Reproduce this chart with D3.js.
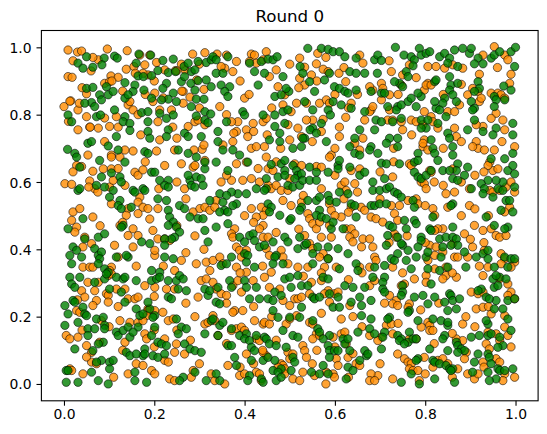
<!DOCTYPE html>
<html><head><meta charset="utf-8">
<script src="https://cdn.jsdelivr.net/npm/d3@7/dist/d3.min.js"></script>
<style>body{margin:0;background:#fff}svg{display:block}</style>
</head><body><svg id="c" width="547" height="434"></svg>
<script>
const title = "Round 0";
const xLimits = [-0.05, 1.05];
const yLimits = [-0.05, 1.05];
const xTicks = [0.0, 0.2, 0.4, 0.6, 0.8, 1.0];
const yTicks = [0.0, 0.2, 0.4, 0.6, 0.8, 1.0];
const seriesNames = ["orange", "green"];

const orangePoints = [
[.009,.992],[.030,.986],[.096,.995],[.076,.963],[.064,.970],[.009,.913],[.018,.911],[.104,.915],[.120,.911],[.138,.935],[.155,.943],[.158,.923],[.179,.948],[.205,.955],[.223,.933],[.247,.931],[.285,.980],[.312,.984],[.090,.893],[.101,.898],[.264,.869],[.310,.875],[.050,.862],[.015,.841],[.000,.824],[.031,.814],[.050,.794],[.031,.755],[.057,.763],[.076,.760],[.101,.765],[.120,.763],[.142,.829],[.146,.839],[.153,.814],[.201,.864],[.197,.839],[.212,.814],[.208,.779],[.212,.725],[.238,.814],[.275,.765],[.290,.779],[.297,.784],[.312,.770],[.264,.834],[.245,.695],[.205,.692],[.153,.692],[.135,.695],[.105,.680],[.053,.680],[.306,.697],[.288,.695],[.186,.918],[.116,.794],[.168,.977],[.175,.923],[.039,.989],[.190,.977],[.013,.840],[.034,.834],[.058,.763],[.164,.800],[.261,.870],[.279,.852],[.294,.903],[.106,.900],[.241,.763],[.268,.933],[.250,.930],
[.339,.980],[.360,.977],[.382,.958],[.374,.928],[.356,.938],[.348,.943],[.415,.980],[.422,.977],[.411,.958],[.426,.953],[.441,.963],[.448,.987],[.470,.933],[.455,.913],[.474,.883],[.489,.859],[.522,.968],[.533,.941],[.548,.918],[.522,.908],[.533,.888],[.559,.951],[.574,.935],[.562,.982],[.585,.928],[.609,.923],[.624,.898],[.655,.977],[.662,.953],[.345,.824],[.400,.849],[.385,.779],[.371,.779],[.382,.750],[.376,.745],[.404,.755],[.419,.774],[.407,.735],[.441,.779],[.448,.789],[.485,.829],[.503,.809],[.496,.770],[.518,.760],[.515,.834],[.537,.834],[.566,.834],[.581,.844],[.588,.834],[.551,.784],[.574,.786],[.537,.784],[.526,.735],[.610,.763],[.624,.792],[.636,.834],[.666,.784],[.610,.735],[.662,.730],[.352,.710],[.374,.720],[.415,.700],[.426,.705],[.444,.705],[.500,.725],[.592,.680],[.644,.715],[.655,.695],
[.703,.893],[.706,.878],[.684,.873],[.677,.883],[.721,.859],[.703,.844],[.680,.814],[.677,.809],[.721,.814],[.717,.784],[.728,.784],[.747,.779],[.750,.755],[.769,.784],[.780,.779],[.795,.770],[.798,.809],[.813,.794],[.817,.779],[.850,.809],[.865,.809],[.865,.760],[.869,.735],[.828,.760],[.806,.893],[.798,.873],[.802,.888],[.813,.888],[.806,.943],[.824,.943],[.843,.938],[.883,.938],[.861,.948],[.750,.918],[.747,.888],[.725,.928],[.765,.948],[.928,.977],[.953,1.002],[.976,.977],[.983,.963],[.917,.869],[.905,.878],[.894,.859],[.920,.839],[.924,.849],[.946,.864],[.961,.864],[.968,.859],[.976,.849],[.987,.893],[.957,.804],[.972,.784],[.976,.755],[.946,.789],[.928,.765],[.913,.770],[.876,.829],[.798,.725],[.795,.705],[.806,.695],[.913,.720],[.917,.700],[.931,.695],[.905,.705],[.953,.695],[.998,.705],[.684,.824],[.795,.715],
[.028,.649],[.039,.646],[.064,.632],[.087,.639],[.105,.674],[.105,.639],[.124,.674],[.157,.629],[.164,.620],[.175,.636],[.223,.649],[.260,.654],[.286,.644],[.290,.649],[.312,.664],[.002,.595],[.017,.593],[.057,.603],[.068,.580],[.101,.585],[.109,.605],[.135,.590],[.168,.555],[.164,.540],[.105,.535],[.142,.521],[.138,.501],[.164,.506],[.175,.525],[.186,.521],[.208,.521],[.267,.580],[.286,.511],[.301,.521],[.312,.525],[.323,.516],[.020,.511],[.035,.521],[.017,.486],[.064,.496],[.028,.466],[.024,.451],[.124,.471],[.153,.461],[.142,.441],[.164,.441],[.197,.456],[.208,.431],[.223,.431],[.234,.426],[.201,.382],[.201,.397],[.046,.436],[.042,.407],[.061,.417],[.112,.412],[.153,.407],[.120,.377],[.042,.347],[.057,.347],[.064,.347],[.105,.347],[.260,.367],[.293,.357],[.315,.362],[.323,.337],[.330,.367],[.245,.337],[.101,.337],
[.382,.654],[.404,.659],[.448,.674],[.511,.654],[.526,.649],[.559,.646],[.570,.644],[.588,.674],[.636,.634],[.655,.639],[.452,.639],[.463,.634],[.371,.605],[.348,.600],[.396,.605],[.415,.610],[.433,.600],[.452,.590],[.459,.580],[.470,.590],[.481,.575],[.496,.575],[.485,.545],[.503,.530],[.526,.540],[.437,.525],[.448,.516],[.441,.501],[.426,.496],[.415,.521],[.441,.471],[.433,.461],[.337,.545],[.334,.525],[.588,.535],[.592,.516],[.614,.590],[.622,.600],[.625,.575],[.644,.595],[.658,.525],[.666,.516],[.636,.525],[.614,.496],[.540,.506],[.544,.491],[.551,.476],[.559,.461],[.566,.481],[.588,.471],[.592,.436],[.570,.436],[.533,.441],[.544,.417],[.551,.402],[.574,.387],[.566,.377],[.585,.372],[.625,.461],[.636,.461],[.644,.446],[.633,.436],[.640,.422],[.659,.407],[.662,.431],[.378,.461],[.371,.446],[.374,.436],[.382,.407],[.389,.397],[.404,.397],[.393,.377],[.441,.436],[.452,.436],[.448,.402],[.455,.382],[.481,.397],[.518,.347],[.540,.347],[.577,.347],[.603,.347],[.655,.347],[.345,.377],[.352,.357],[.382,.347],[.404,.332],[.485,.377],[.496,.357],[.459,.332],
[.765,.654],[.769,.649],[.810,.634],[.813,.629],[.861,.639],[.950,.634],[.943,.659],[.939,.649],[.961,.639],[.791,.600],[.798,.595],[.802,.580],[.846,.565],[.865,.570],[.850,.525],[.898,.530],[.898,.580],[.943,.575],[.950,.570],[.965,.575],[.979,.585],[.990,.600],[.998,.570],[.987,.525],[.976,.511],[.762,.545],[.780,.550],[.784,.535],[.728,.615],[.725,.530],[.732,.506],[.743,.530],[.680,.496],[.691,.491],[.706,.481],[.739,.486],[.817,.521],[.821,.501],[.839,.461],[.828,.461],[.821,.456],[.861,.417],[.887,.446],[.909,.471],[.928,.456],[.957,.441],[.965,.436],[.946,.461],[.979,.441],[.677,.431],[.684,.407],[.732,.446],[.736,.436],[.810,.412],[.824,.407],[.839,.392],[.821,.382],[.865,.377],[.894,.377],[.905,.407],[.931,.397],[.968,.387],[.976,.372],[.688,.377],[.677,.347],[.691,.367],[.806,.367],[.821,.342],[.846,.347],[.872,.377],[.998,.362],[.990,.347],[.968,.357],[.939,.347],[.728,.347],
[.053,.302],[.076,.302],[.098,.322],[.105,.327],[.116,.282],[.135,.282],[.179,.292],[.201,.287],[.227,.282],[.245,.282],[.039,.277],[.046,.258],[.068,.277],[.072,.248],[.064,.233],[.094,.268],[.098,.263],[.028,.218],[.035,.213],[.098,.243],[.142,.253],[.157,.253],[.164,.258],[.186,.223],[.186,.218],[.183,.203],[.201,.218],[.219,.213],[.124,.188],[.146,.183],[.164,.183],[.175,.188],[.231,.188],[.242,.193],[.083,.188],[.005,.144],[.013,.134],[.031,.139],[.050,.114],[.061,.094],[.079,.124],[.135,.124],[.179,.149],[.183,.134],[.223,.134],[.249,.119],[.245,.094],[.267,.089],[.312,.178],[.319,.183],[.297,.258],[.304,.307],[.315,.312],[.330,.302],[.061,.065],[.072,.060],[.160,.060],[.175,.055],[.142,.030],[.194,.040],[.201,.030],[.223,.070],[.231,.065],[.042,.030],[.013,.045],[.017,.040],[.286,.040],[.282,.020],[.234,.015],[.245,.010],[.326,.030],
[.337,.282],[.348,.268],[.360,.263],[.374,.292],[.385,.307],[.393,.273],[.419,.307],[.444,.317],[.455,.287],[.478,.282],[.485,.248],[.500,.233],[.511,.253],[.518,.253],[.526,.258],[.544,.268],[.548,.302],[.570,.307],[.585,.277],[.577,.268],[.599,.268],[.607,.273],[.588,.243],[.614,.193],[.633,.233],[.378,.218],[.396,.218],[.374,.213],[.330,.203],[.334,.188],[.341,.144],[.371,.159],[.382,.164],[.393,.169],[.400,.159],[.426,.134],[.433,.129],[.441,.178],[.422,.188],[.444,.183],[.455,.178],[.492,.178],[.500,.193],[.515,.203],[.544,.183],[.551,.178],[.559,.149],[.551,.134],[.566,.144],[.596,.139],[.614,.149],[.622,.154],[.529,.114],[.533,.099],[.537,.079],[.496,.094],[.500,.075],[.507,.089],[.481,.060],[.485,.055],[.489,.045],[.489,.030],[.474,.050],[.448,.084],[.441,.094],[.404,.089],[.363,.055],[.389,.025],[.400,.030],[.426,.035],[.433,.030],[.437,.010],[.507,.015],[.522,.010],[.529,.035],[.555,.025],[.581,.035],[.596,.030],[.599,.020],[.603,.075],[.607,.055],[.629,.079],[.647,.060],[.655,.055],[.625,.119],[.356,.000],[.334,.010],
[.677,.292],[.688,.307],[.721,.263],[.736,.248],[.728,.238],[.739,.233],[.754,.297],[.747,.292],[.776,.312],[.802,.322],[.802,.302],[.846,.322],[.839,.312],[.869,.317],[.928,.322],[.965,.312],[.983,.297],[.990,.273],[.983,.263],[.998,.253],[.902,.273],[.917,.268],[.928,.273],[.913,.223],[.928,.228],[.946,.208],[.976,.203],[.976,.169],[.983,.144],[.965,.129],[.957,.149],[.935,.119],[.942,.104],[.939,.154],[.883,.178],[.869,.134],[.883,.129],[.891,.094],[.887,.075],[.765,.238],[.762,.228],[.791,.169],[.806,.183],[.810,.174],[.810,.159],[.817,.159],[.765,.134],[.780,.134],[.728,.149],[.714,.174],[.725,.178],[.703,.139],[.695,.129],[.677,.144],[.739,.089],[.754,.075],[.762,.065],[.769,.060],[.765,.045],[.773,.040],[.784,.040],[.798,.079],[.817,.050],[.828,.070],[.839,.075],[.850,.060],[.872,.045],[.894,.030],[.909,.015],[.917,.030],[.928,.065],[.957,.075],[.965,.065],[.976,.030],[.972,.010],[.998,.020],[.728,.015],[.787,.010],[.695,.025],[.680,.030],[.677,.010],[.688,.010],
[.055,.585],[.075,.570],[.020,.630],[.120,.640],[.180,.660],[.250,.600],[.270,.550],[.210,.580],[.190,.490],[.130,.480],[.080,.470],[.250,.470],[.290,.440],[.310,.400],[.270,.390],[.160,.350],[.220,.350],[.030,.250],[.120,.230],[.200,.260],[.270,.240],[.290,.200],[.250,.160],[.200,.160],[.100,.170],[.040,.160],[.130,.100],[.200,.110],[.280,.130],[.300,.060],[.110,.020],[.050,.080],
[.360,.620],[.430,.640],[.470,.660],[.500,.610],[.530,.560],[.570,.580],[.600,.620],[.620,.550],[.650,.570],[.400,.500],[.420,.480],[.470,.450],[.520,.460],[.600,.500],[.630,.510],[.390,.330],[.440,.350],[.530,.320],[.570,.330],[.630,.310],[.660,.330],[.360,.240],[.420,.230],[.460,.200],[.570,.210],[.640,.200],[.660,.170],[.360,.120],[.440,.100],[.470,.130],[.560,.100],[.600,.110],[.640,.090],[.390,.050],[.420,.060],[.550,.060],[.580,.000],[.630,.020],
[.700,.630],[.730,.660],[.820,.600],[.840,.590],[.880,.600],[.910,.620],[.930,.630],[.700,.550],[.800,.530],[.880,.500],[.910,.520],[.940,.500],[.720,.420],[.760,.440],[.800,.420],[.900,.430],[.930,.420],[.750,.330],[.860,.330],[.920,.350],[.710,.240],[.790,.220],[.830,.240],[.890,.200],[.940,.230],[.740,.180],[.820,.120],[.860,.150],[.910,.170],[.990,.110],[.700,.060],[.800,.030],[.860,.020],[.930,.050],
[.360,.800],[.410,.860],[.460,.820],[.520,.880],[.560,.900],[.600,.860],[.630,.820],[.650,.860],[.390,.900],[.500,.950],[.580,.970],[.620,.940],[.450,.740],[.480,.700],[.550,.720],[.600,.700],[.570,.750],[.420,.750],[.720,.960],[.740,.860],[.780,.910],[.840,.860],[.880,.890],[.920,.920],[.960,.940],[.990,.920],[.880,.720],[.840,.700],[.970,.720],[.730,.700],[.770,.740],
[.020,.960],[.060,.930],[.140,.990],[.200,.900],[.260,.950],[.300,.950],[.040,.880],[.130,.870],[.180,.860],[.220,.850],[.300,.820],[.010,.780],[.090,.790],[.170,.740],[.250,.730],[.310,.710],[.090,.720]
];

const greenPoints = [
[.050,.972],[.089,.968],[.084,.948],[.112,.974],[.118,.968],[.166,.980],[.192,.977],[.242,.965],[.219,.961],[.208,.931],[.231,.925],[.266,.943],[.275,.953],[.282,.928],[.290,.933],[.297,.958],[.315,.955],[.326,.963],[.315,.903],[.297,.901],[.281,.893],[.260,.898],[.267,.913],[.247,.928],[.031,.953],[.042,.938],[.064,.941],[.160,.953],[.164,.915],[.176,.913],[.194,.916],[.135,.895],[.157,.888],[.153,.869],[.177,.873],[.227,.893],[.219,.878],[.242,.864],[.231,.846],[.249,.839],[.216,.844],[.194,.849],[.290,.873],[.293,.846],[.310,.846],[.282,.824],[.312,.809],[.312,.784],[.319,.776],[.293,.796],[.325,.802],[.267,.745],[.275,.735],[.304,.735],[.326,.883],[.050,.878],[.064,.881],[.094,.883],[.098,.859],[.079,.859],[.083,.844],[.061,.836],[.068,.824],[.046,.834],[.009,.799],[.017,.779],[.072,.794],[.081,.799],[.112,.814],[.135,.794],[.131,.779],[.146,.774],[.146,.753],[.116,.735],[.172,.806],[.186,.809],[.212,.804],[.227,.789],[.231,.755],[.227,.735],[.242,.799],[.186,.779],[.186,.750],[.190,.730],[.053,.715],[.061,.720],[.098,.707],[.120,.695],[.008,.697],[.024,.685],[.179,.690],[.186,.685],[.275,.685],[.253,.695],[.135,.849],[.142,.859],[.109,.869],
[.330,.972],[.337,.963],[.363,.972],[.337,.923],[.352,.923],[.411,.953],[.437,.958],[.452,.965],[.463,.963],[.472,.972],[.422,.928],[.444,.923],[.430,.888],[.467,.854],[.485,.913],[.498,.869],[.492,.878],[.481,.859],[.523,.943],[.529,.923],[.544,.898],[.540,.997],[.570,.997],[.585,.994],[.596,.987],[.610,.987],[.622,.972],[.647,.968],[.588,.923],[.577,.903],[.599,.883],[.610,.878],[.622,.869],[.629,.864],[.647,.873],[.633,.928],[.647,.923],[.666,.923],[.596,.839],[.585,.814],[.590,.799],[.614,.829],[.636,.819],[.666,.809],[.555,.869],[.533,.839],[.551,.814],[.570,.774],[.551,.760],[.545,.755],[.559,.745],[.533,.730],[.348,.888],[.367,.883],[.356,.869],[.363,.854],[.360,.779],[.396,.809],[.400,.799],[.341,.750],[.467,.799],[.441,.799],[.489,.774],[.467,.765],[.478,.745],[.455,.725],[.478,.720],[.485,.809],[.496,.814],[.507,.700],[.526,.705],[.529,.730],[.581,.720],[.644,.730],[.655,.755],[.633,.705],[.644,.685],[.655,.680],[.341,.720],[.352,.695],[.374,.695],[.389,.680],
[.734,1.000],[.753,.977],[.787,.997],[.769,.972],[.776,.963],[.773,.945],[.791,.977],[.802,.982],[.810,.987],[.832,.972],[.843,.982],[.854,.968],[.865,.992],[.850,.953],[.872,.943],[.883,.997],[.898,.982],[.902,.997],[.917,.968],[.909,.951],[.928,.951],[.946,.968],[.953,.977],[.965,.987],[.990,.987],[1.000,1.000],[.998,.943],[.688,.963],[.695,.977],[.703,.961],[.694,.923],[.758,.928],[.762,.913],[.821,.898],[.824,.903],[.854,.913],[.857,.888],[.872,.893],[.854,.873],[.861,.859],[.869,.839],[.843,.849],[.839,.834],[.824,.819],[.832,.814],[.821,.839],[.846,.794],[.917,.898],[.920,.878],[.909,.869],[.902,.839],[.909,.819],[.905,.814],[.909,.784],[.953,.854],[.957,.844],[.953,.824],[.974,.885],[.976,.844],[.990,.873],[.994,.774],[.680,.869],[.703,.864],[.710,.864],[.717,.824],[.739,.824],[.736,.814],[.747,.829],[.762,.839],[.769,.849],[.780,.824],[.791,.854],[.784,.864],[.743,.893],[.750,.883],[.732,.898],[.691,.784],[.703,.779],[.728,.779],[.747,.789],[.688,.755],[.791,.784],[.806,.784],[.802,.760],[.828,.774],[.791,.760],[.850,.745],[.854,.730],[.861,.705],[.894,.755],[.928,.750],[.957,.760],[.950,.740],[.994,.740],[.721,.730],[.739,.730],[.739,.705],[.714,.715],[.680,.705],[.677,.695],[.695,.685],[.784,.685],[.813,.725],[.817,.700],[.821,.685],[.861,.680],[.994,.685],
[.028,.674],[.035,.644],[.079,.664],[.135,.659],[.083,.615],[.105,.627],[.124,.615],[.127,.600],[.072,.590],[.090,.585],[.109,.575],[.031,.575],[.035,.580],[.153,.575],[.157,.570],[.175,.580],[.179,.575],[.194,.629],[.201,.629],[.212,.605],[.231,.605],[.223,.590],[.231,.585],[.279,.605],[.275,.620],[.293,.615],[.304,.610],[.312,.639],[.293,.674],[.312,.659],[.282,.590],[.290,.585],[.308,.590],[.101,.555],[.124,.545],[.120,.530],[.127,.521],[.149,.525],[.208,.550],[.227,.545],[.231,.516],[.234,.496],[.242,.481],[.249,.466],[.256,.451],[.231,.471],[.245,.436],[.238,.431],[.223,.431],[.223,.412],[.190,.417],[.172,.422],[.256,.530],[.267,.521],[.279,.496],[.297,.491],[.308,.491],[.312,.456],[.319,.422],[.323,.545],[.042,.491],[.009,.461],[.131,.471],[.127,.466],[.046,.431],[.076,.436],[.090,.446],[.020,.407],[.028,.397],[.068,.402],[.076,.382],[.083,.392],[.079,.372],[.076,.357],[.090,.342],[.098,.332],[.013,.382],[.017,.357],[.039,.377],[.116,.377],[.142,.377],[.138,.382],[.223,.377],[.242,.372],[.194,.337],[.212,.332],
[.337,.659],[.363,.634],[.407,.659],[.459,.652],[.481,.654],[.489,.664],[.489,.634],[.507,.649],[.515,.634],[.518,.620],[.511,.610],[.526,.624],[.544,.644],[.585,.629],[.607,.649],[.610,.664],[.607,.639],[.633,.644],[.655,.620],[.666,.629],[.448,.610],[.474,.615],[.489,.620],[.496,.590],[.507,.585],[.522,.590],[.529,.605],[.544,.605],[.559,.605],[.559,.629],[.448,.580],[.444,.575],[.426,.580],[.404,.565],[.385,.565],[.371,.570],[.345,.565],[.360,.560],[.382,.535],[.374,.530],[.352,.540],[.356,.516],[.345,.511],[.363,.511],[.363,.476],[.337,.466],[.452,.535],[.459,.525],[.455,.511],[.478,.501],[.500,.486],[.503,.491],[.526,.525],[.522,.516],[.540,.545],[.559,.545],[.566,.555],[.585,.560],[.588,.545],[.603,.540],[.610,.570],[.629,.565],[.636,.535],[.644,.530],[.647,.496],[.618,.461],[.592,.461],[.566,.516],[.559,.501],[.570,.496],[.581,.491],[.596,.481],[.389,.436],[.411,.441],[.419,.446],[.422,.426],[.400,.422],[.433,.407],[.444,.412],[.463,.422],[.489,.436],[.496,.422],[.522,.436],[.518,.402],[.533,.412],[.537,.417],[.562,.407],[.585,.407],[.607,.402],[.551,.387],[.470,.382],[.467,.377],[.400,.387],[.407,.382],[.371,.377],[.348,.352],[.360,.357],[.404,.362],[.422,.347],[.463,.357],[.485,.357],[.551,.357],[.585,.372],[.610,.342],[.647,.357],[.629,.387],[.651,.337],
[.703,.656],[.714,.654],[.743,.654],[.776,.659],[.784,.664],[.828,.664],[.872,.654],[.894,.644],[.869,.634],[.887,.620],[.861,.610],[.872,.605],[.839,.634],[.854,.634],[.776,.629],[.784,.615],[.791,.610],[.802,.620],[.813,.634],[.946,.669],[.976,.669],[.983,.634],[.998,.624],[.994,.649],[.998,.585],[.972,.600],[.957,.605],[.939,.605],[.924,.595],[.902,.580],[.931,.580],[.928,.565],[.950,.555],[.961,.580],[.972,.575],[.979,.545],[.987,.545],[.994,.511],[.968,.516],[.935,.496],[.953,.471],[.983,.466],[.976,.461],[.684,.600],[.710,.610],[.684,.575],[.699,.575],[.714,.580],[.721,.585],[.732,.570],[.739,.565],[.747,.555],[.680,.530],[.688,.530],[.699,.535],[.714,.535],[.773,.545],[.776,.525],[.861,.535],[.857,.530],[.817,.496],[.754,.486],[.776,.486],[.780,.476],[.721,.471],[.728,.466],[.758,.461],[.810,.461],[.813,.456],[.832,.431],[.846,.436],[.861,.466],[.861,.436],[.869,.431],[.872,.412],[.857,.412],[.791,.436],[.791,.426],[.784,.407],[.750,.412],[.747,.417],[.739,.436],[.717,.441],[.714,.412],[.725,.372],[.739,.387],[.762,.397],[.780,.377],[.802,.377],[.806,.392],[.835,.377],[.839,.407],[.887,.392],[.913,.377],[.928,.387],[.939,.397],[.939,.372],[.976,.377],[.990,.372],[.688,.347],[.710,.352],[.732,.367],[.758,.367],[.769,.342],[.806,.342],[.832,.337],[.850,.347],[.890,.347],[.953,.347],[.983,.347],[.998,.372],
[.013,.317],[.017,.297],[.024,.287],[.035,.317],[.090,.312],[.094,.327],[.116,.317],[.131,.312],[.135,.317],[.160,.307],[.194,.307],[.205,.312],[.212,.317],[.231,.307],[.249,.307],[.256,.322],[.271,.277],[.253,.282],[.264,.312],[.231,.258],[.238,.253],[.312,.282],[.319,.263],[.323,.277],[.002,.233],[.009,.208],[.020,.248],[.024,.243],[.042,.228],[.046,.208],[.050,.203],[.068,.302],[.101,.282],[.127,.273],[.135,.243],[.160,.223],[.168,.203],[.175,.208],[.190,.223],[.186,.243],[.201,.203],[.197,.198],[.002,.174],[.031,.183],[.053,.164],[.053,.144],[.072,.193],[.087,.198],[.090,.174],[.090,.164],[.068,.164],[.087,.124],[.076,.119],[.064,.099],[.116,.154],[.120,.144],[.131,.159],[.142,.169],[.146,.139],[.164,.169],[.153,.154],[.194,.144],[.201,.169],[.208,.124],[.216,.119],[.227,.114],[.179,.104],[.175,.084],[.179,.089],[.197,.084],[.208,.079],[.223,.089],[.249,.193],[.260,.169],[.271,.164],[.253,.149],[.267,.119],[.279,.104],[.290,.099],[.304,.094],[.312,.149],[.326,.188],[.024,.104],[.138,.094],[.146,.084],[.160,.089],[.083,.070],[.101,.065],[.109,.070],[.101,.045],[.072,.065],[.061,.035],[.005,.040],[.009,.040],[.005,.005],[.031,.005],[.076,.010],[.098,.000],[.157,.035],[.157,.010],[.183,.005],[.264,.020],[.290,.035],[.256,.010],[.315,.010],
[.341,.287],[.337,.243],[.345,.238],[.367,.307],[.371,.287],[.400,.307],[.404,.287],[.411,.253],[.426,.287],[.433,.253],[.452,.253],[.463,.248],[.467,.273],[.463,.218],[.474,.198],[.481,.263],[.489,.312],[.500,.317],[.503,.287],[.518,.322],[.526,.292],[.540,.292],[.551,.258],[.555,.253],[.566,.258],[.574,.317],[.585,.312],[.588,.268],[.596,.228],[.607,.258],[.610,.228],[.622,.292],[.636,.243],[.640,.287],[.655,.258],[.659,.233],[.666,.287],[.526,.228],[.522,.198],[.500,.198],[.507,.144],[.518,.139],[.485,.159],[.551,.188],[.562,.164],[.566,.154],[.588,.144],[.574,.134],[.585,.114],[.588,.099],[.599,.099],[.618,.134],[.622,.119],[.629,.134],[.651,.154],[.659,.203],[.670,.084],[.666,.099],[.633,.099],[.345,.174],[.330,.193],[.352,.183],[.371,.164],[.341,.144],[.389,.144],[.404,.149],[.400,.134],[.411,.129],[.426,.144],[.444,.139],[.448,.134],[.455,.119],[.470,.114],[.492,.109],[.415,.109],[.422,.099],[.415,.070],[.441,.070],[.452,.079],[.467,.070],[.481,.045],[.463,.040],[.474,.035],[.507,.079],[.511,.065],[.503,.040],[.363,.114],[.371,.114],[.378,.079],[.382,.055],[.411,.025],[.407,.010],[.437,.015],[.441,.005],[.470,.010],[.481,.020],[.548,.035],[.566,.030],[.588,.079],[.574,.055],[.607,.099],[.629,.050],[.625,.015],[.640,.040],[.655,.070],[.345,.010],[.337,.030],[.585,.030],
[.684,.317],[.710,.317],[.706,.302],[.706,.282],[.710,.273],[.750,.292],[.750,.273],[.747,.263],[.776,.258],[.795,.263],[.813,.297],[.821,.258],[.806,.238],[.854,.268],[.857,.263],[.843,.243],[.861,.248],[.876,.253],[.869,.223],[.850,.218],[.835,.188],[.817,.193],[.784,.188],[.765,.218],[.762,.213],[.721,.198],[.717,.193],[.680,.248],[.680,.193],[.677,.164],[.688,.149],[.710,.154],[.706,.139],[.739,.144],[.747,.134],[.743,.129],[.762,.124],[.754,.119],[.765,.154],[.773,.134],[.780,.134],[.843,.144],[.839,.134],[.850,.174],[.850,.183],[.869,.124],[.872,.114],[.880,.104],[.887,.099],[.872,.094],[.850,.099],[.902,.139],[.920,.144],[.939,.144],[.946,.149],[.965,.139],[.972,.114],[.961,.109],[.939,.178],[.935,.188],[.953,.223],[.957,.248],[.972,.223],[.983,.193],[.990,.159],[.983,.248],[.998,.253],[.953,.287],[.961,.292],[.965,.317],[.950,.312],[.957,.322],[.979,.312],[.924,.282],[.917,.277],[.935,.258],[.942,.253],[.810,.104],[.784,.075],[.780,.070],[.817,.070],[.821,.065],[.832,.060],[.846,.055],[.854,.045],[.861,.045],[.857,.040],[.909,.065],[.905,.035],[.917,.089],[.939,.089],[.942,.079],[.946,.060],[.939,.035],[.961,.045],[.965,.040],[.976,.040],[.994,.045],[.957,.015],[.942,.010],[.769,.030],[.747,.005],[.787,.000],[.821,.015],[.865,.005],[.673,.089],[.703,.104]
];

const colors = { orange: "#ff8c00", green: "#008000" };

const plot = { left: 41.4, right: 538.1, top: 30.5, bottom: 400.8 };
const svg = d3.select("#c");
const x = d3.scaleLinear().domain(xLimits).range([plot.left, plot.right]);
const y = d3.scaleLinear().domain(yLimits).range([plot.bottom, plot.top]);

const layers = [
  { name: "orange", data: orangePoints },
  { name: "green", data: greenPoints }
];
const pts = svg.append("g");
layers.forEach(L => {
  pts.append("g").selectAll("circle").data(L.data).join("circle")
    .attr("cx", d => x(d[0]))
    .attr("cy", d => y(d[1]))
    .attr("r", 4.15)
    .attr("fill", colors[L.name])
    .attr("fill-opacity", 0.8)
    .attr("stroke", "#000")
    .attr("stroke-opacity", 0.8)
    .attr("stroke-width", 0.7);
});

const fmt = d3.format(".1f");
const font = "'DejaVu Sans', sans-serif";
const xAxis = svg.append("g").attr("transform", `translate(0,${plot.bottom})`)
  .call(d3.axisBottom(x).tickValues(xTicks).tickFormat(fmt).tickSize(4.9).tickPadding(3.4).tickSizeOuter(0));
const yAxis = svg.append("g").attr("transform", `translate(${plot.left},0)`)
  .call(d3.axisLeft(y).tickValues(yTicks).tickFormat(fmt).tickSize(4.9).tickPadding(4.9).tickSizeOuter(0));
[xAxis, yAxis].forEach(a => {
  a.select(".domain").remove();
  a.selectAll(".tick line").attr("stroke", "#000").attr("stroke-width", 1.1);
  a.selectAll(".tick text").attr("fill", "#000").style("font-family", font).style("font-size", "13.9px");
});
yAxis.selectAll(".tick text").attr("dy", "0.36em");

svg.append("rect")
  .attr("x", plot.left).attr("y", plot.top)
  .attr("width", plot.right - plot.left).attr("height", plot.bottom - plot.top)
  .attr("fill", "none").attr("stroke", "#000").attr("stroke-width", 1.1);

svg.append("text")
  .attr("x", (plot.left + plot.right) / 2).attr("y", plot.top - 8.3)
  .attr("text-anchor", "middle")
  .style("font-family", font).style("font-size", "16.7px").attr("fill", "#000")
  .text(title);
</script>
</body></html>
